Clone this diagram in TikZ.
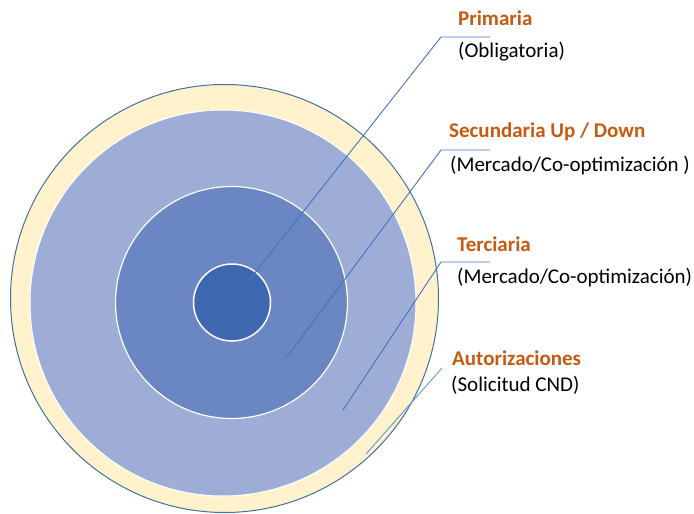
\documentclass[tikz,border=0pt]{standalone}
\usepackage{fontspec}
\setmainfont{Carlito}
\definecolor{ringY}{RGB}{255,242,204}
\definecolor{ringEdge}{RGB}{65,113,156}
\definecolor{ringL}{RGB}{157,173,214}
\definecolor{ringM}{RGB}{106,135,196}
\definecolor{ringI}{RGB}{61,103,175}
\definecolor{leader}{RGB}{68,114,196}
\definecolor{leaderL}{RGB}{91,155,213}
\definecolor{lab}{RGB}{197,90,17}
\begin{document}
\begin{tikzpicture}[x=1pt,y=-1pt,
  disc/.style={circle,inner sep=0pt,outer sep=0pt},
  title/.style={anchor=base west,inner sep=0pt,font=\fontsize{21}{24}\selectfont\bfseries,text=lab},
  sub/.style={anchor=base west,inner sep=0pt,font=\fontsize{21}{24}\selectfont,text=black},
  lead/.style={draw=leader,line width=0.9pt},
  leadL/.style={draw=leaderL,line width=0.9pt}]
\useasboundingbox (0,0) rectangle (694,514);
\node[disc,fill=ringY,draw=ringEdge,line width=1pt,minimum size=428pt] (outer) at (224.5,298.5) {};
\node[disc,fill=ringL,draw=white,line width=1pt,minimum size=386pt] (light) at (223,303) {};
\node[disc,fill=ringM,draw=white,line width=1.2pt,minimum size=232pt] (mid) at (231.5,302.5) {};
\node[disc,fill=ringI,draw=white,line width=1.5pt,minimum size=77pt] (inner) at (232,302.5) {};
% labels
\node[title] (t1) at (458,25) {Primaria};
\node[sub] (s1) at (458,57) {(Obligatoria)};
\node[title] (t2) at (449,137) {Secundaria Up / Down};
\node[sub] (s2) at (450,171) {(Mercado/Co-optimización )};
\node[title] (t3) at (457,251.5) {Terciaria};
\node[sub] (s3) at (457,283) {(Mercado/Co-optimización)};
\node[title] (t4) at (452,365) {Autorizaciones};
\node[sub] (s4) at (451,391.5) {(Solicitud CND)};
% leader points
\coordinate (p1) at (232,302);
\coordinate (e1) at (441,37);
\coordinate (h1) at (490,37);
\coordinate (p2) at (287,357);
\coordinate (e2) at (441,150);
\coordinate (h2) at (490,150);
\coordinate (p3) at (343,410);
\coordinate (e3) at (441,262);
\coordinate (h3) at (490,262);
\coordinate (p4) at (366,454);
\coordinate (e4) at (442,368);
\draw[lead] (p1) -- (e1) -- (h1);
\draw[lead] (p2) -- (e2) -- (h2);
\draw[lead] (p3) -- (e3) -- (h3);
\draw[leadL] (p4) -- (e4);
\end{tikzpicture}
\end{document}
